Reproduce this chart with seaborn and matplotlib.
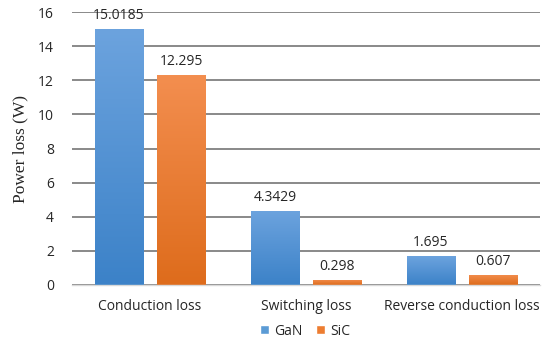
import numpy as np
import pandas as pd
import matplotlib
matplotlib.use("Agg")
import matplotlib.pyplot as plt
import seaborn as sns
from matplotlib.colors import LinearSegmentedColormap
from matplotlib.patches import Patch

categories = ["Conduction loss", "Switching loss", "Reverse conduction loss"]
gan_values = [15.0185, 4.3429, 1.695]
sic_values = [12.295, 0.298, 0.607]
gan_labels = ["15.0185", "4.3429", "1.695"]
sic_labels = ["12.295", "0.298", "0.607"]

df = pd.DataFrame({
    "category": categories * 2,
    "value": gan_values + sic_values,
    "device": ["GaN"] * 3 + ["SiC"] * 3,
})

sns.set_style("white")
plt.rcParams["font.family"] = ["Open Sans", "DejaVu Sans"]

fig = plt.figure(figsize=(5.5, 3.45), dpi=100)
ax = fig.add_axes([0.131, 0.174, 0.851, 0.791])

palette = {"GaN": "#5b9bd5", "SiC": "#ed7d31"}
sns.barplot(data=df, x="category", y="value", hue="device", palette=palette,
            width=0.8, gap=0.22, ax=ax, legend=False, saturation=1)

# Excel-style vertical gradient for each bar
grads = {
    "GaN": ("#3c82c8", "#6ca3de"),
    "SiC": ("#de6c1c", "#f38e4f"),
}
for cont, dev, labels in zip(ax.containers, ["GaN", "SiC"], [gan_labels, sic_labels]):
    cmap = LinearSegmentedColormap.from_list(dev, grads[dev])
    for bar, lab in zip(cont, labels):
        x0, y0 = bar.get_x(), bar.get_y()
        w, h = bar.get_width(), bar.get_height()
        grad = np.linspace(0, 1, 100).reshape(-1, 1)
        im = ax.imshow(grad, cmap=cmap, origin="lower", aspect="auto",
                       extent=[x0, x0 + w, y0, y0 + h], zorder=bar.get_zorder())
        im.set_clip_path(bar)
        bar.set_facecolor("none")
        bar.set_edgecolor("none")
        ax.text(x0 + w / 2, y0 + h + 0.35, lab, ha="center", va="bottom",
                fontsize=10, color="#262626")

ax.set_xlim(-0.5, 2.5)
ax.set_ylim(0, 16)
ax.set_yticks(np.arange(0, 17, 2))
ax.yaxis.grid(True, color="#6a6a6a", linewidth=1.1)
ax.set_axisbelow(True)
for s in ["top", "right", "left"]:
    ax.spines[s].set_visible(False)
ax.spines["bottom"].set_color("#d9d9d9")
ax.spines["bottom"].set_linewidth(1.0)
ax.tick_params(axis="both", length=0, labelsize=10, colors="#262626")
ax.tick_params(axis="y", pad=13)
ax.tick_params(axis="x", pad=10)
ax.set_xlabel("")
ax.set_ylabel("Power loss (W)", family="Liberation Serif", fontsize=12.5,
              color="#262626", labelpad=7)

handles = [Patch(facecolor=palette["GaN"], label="GaN"),
           Patch(facecolor=palette["SiC"], label="SiC")]
fig.legend(handles=handles, loc="center", bbox_to_anchor=(0.555, 0.04), ncol=2,
           frameon=False, fontsize=10, handlelength=0.6, handleheight=0.6,
           handletextpad=0.4, columnspacing=1.0)

fig.savefig("out.png", dpi=100)
